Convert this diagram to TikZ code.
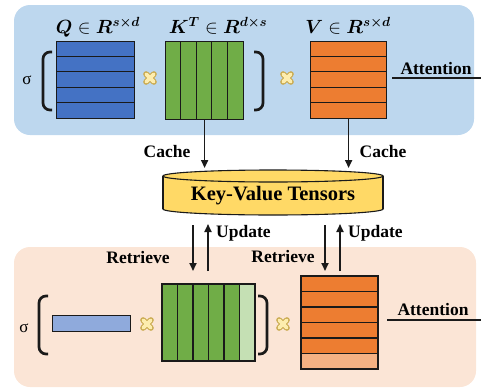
\documentclass[tikz,border=0pt]{standalone}
\usepackage{fontspec}
\setmainfont{Liberation Serif}
\usepackage{bm}
\usetikzlibrary{arrows.meta}

\definecolor{panelblue}{HTML}{BDD7EE}
\definecolor{panelpeach}{HTML}{FBE5D6}
\definecolor{qblue}{HTML}{4472C4}
\definecolor{qlight}{HTML}{8FAADC}
\definecolor{kgreen}{HTML}{70AD47}
\definecolor{klight}{HTML}{C5E0B4}
\definecolor{vorange}{HTML}{ED7D31}
\definecolor{vlight}{HTML}{F4B183}
\definecolor{kvyellow}{HTML}{FFD966}
\definecolor{xfill}{HTML}{FDEDAE}
\definecolor{xedge}{HTML}{C9A94E}
\definecolor{ink}{HTML}{1A1A1A}

\begin{document}
\begin{tikzpicture}[x=1pt,y=-1pt,
  panel/.style={rounded corners=16pt},
  matbox/.style={draw=ink,line width=1.2pt,inner sep=0pt,anchor=north west},
  sepline/.style={draw=ink,line width=1.1pt},
  lbl/.style={font=\bfseries\fontsize{17.5}{20}\selectfont,inner sep=0pt},
  mathlbl/.style={font=\huge,scale=0.92,inner sep=0pt,anchor=base},
  sig/.style={font=\fontsize{17}{20}\selectfont,inner sep=0pt},
  arr/.style={draw=ink,line width=1.7pt,-{Triangle[length=8pt,width=7pt]}},
  brk/.style={draw=ink,line width=2.7pt,rounded corners=7pt},
  uline/.style={draw=ink,line width=1.5pt},
  mulx/.pic={
    \draw[line width=5.8pt,color=xedge,line cap=round]
      (-3.9,-3.9) -- (3.9,3.9) (-3.9,3.9) -- (3.9,-3.9);
    \draw[line width=3.6pt,color=xfill,line cap=round]
      (-3.9,-3.9) -- (3.9,3.9) (-3.9,3.9) -- (3.9,-3.9);
  },
  ]
\useasboundingbox (0,0) rectangle (481,388);

% ---------- background panels ----------
\fill[panelblue,panel] (14,5) rectangle (474,135);
\fill[panelpeach,panel] (14,247) rectangle (476,387);

% ---------- upper row: full attention ----------
\node[mathlbl] (qlab) at (98,33) {$\bm{Q} \in \bm{R}^{\bm{s\times d}}$};
\node[mathlbl] (klab) at (218,33) {$\bm{K}^{\bm{T}} \in \bm{R}^{\bm{d\times s}}$};
\node[mathlbl] (vlab) at (348,33) {$\bm{V} \in \bm{R}^{\bm{s\times d}}$};

\node[matbox,fill=qblue,minimum width=78pt,minimum height=77pt] (Q) at (56,41) {};
\foreach \i in {1,...,4}
  \draw[sepline] (56,41+\i*15.4) -- (134,41+\i*15.4);

\node[matbox,fill=kgreen,minimum width=78pt,minimum height=78pt] (K) at (165,41) {};
\foreach \i in {1,...,4}
  \draw[sepline] (165+\i*15.6,41) -- (165+\i*15.6,119);

\node[matbox,fill=vorange,minimum width=76pt,minimum height=77pt] (V) at (310,41) {};
\foreach \i in {1,...,4}
  \draw[sepline] (310,41+\i*15.4) -- (386,41+\i*15.4);

\node[sig] (sig1) at (27,80) {σ};
\draw[brk] (52,52) -- (43,52) -- (43,110) -- (52,110);
\draw[brk] (254,52) -- (263,52) -- (263,110) -- (254,110);
\pic at (150,78) {mulx};
\pic at (287,78) {mulx};

\node[lbl] (att1) at (436,69) {Attention};
\coordinate (att1a) at (392,78);
\coordinate (att1b) at (481,78);
\draw[uline] (att1a) -- (att1b);

% ---------- key-value cache cylinder ----------
\fill[kvyellow,draw=ink,line width=1.1pt] (273,209) ellipse (110 and 6);
\fill[kvyellow] (163,176) rectangle (383,209);
\draw[ink,line width=1.1pt] (163,176) -- (163,209) (383,176) -- (383,209);
\fill[kvyellow,draw=ink,line width=1.1pt] (273,176) ellipse (110 and 6);
\node[font=\bfseries\fontsize{20.5}{24}\selectfont,inner sep=0pt] (kv) at (273,196) {Key-Value Tensors};
\coordinate (kvT) at (273,168);

% cache arrows
\draw[arr] (K.south) -- (K.south |- kvT);
\draw[arr] (V.south) -- (V.south |- kvT);
\node[lbl] (c1) at (167,152) {Cache};
\node[lbl] (c2) at (383,152) {Cache};

% ---------- lower row: incremental decoding ----------
\node[matbox,fill=qlight,minimum width=78pt,minimum height=16pt] (q2) at (52,315) {};

\node[matbox,fill=kgreen,minimum width=93pt,minimum height=77pt] (K2) at (162,284) {};
\fill[klight] (239.5,284) rectangle (255,361);
\draw[ink,line width=1.2pt] (162,284) rectangle (255,361);
\foreach \i in {1,...,5}
  \draw[sepline] (162+\i*15.5,284) -- (162+\i*15.5,361);

\node[matbox,fill=vorange,minimum width=77pt,minimum height=93pt] (V2) at (301,276) {};
\fill[vlight] (301,353.5) rectangle (378,369);
\draw[ink,line width=1.2pt] (301,276) rectangle (378,369);
\foreach \i in {1,...,5}
  \draw[sepline] (301,276+\i*15.5) -- (378,276+\i*15.5);

\node[sig] (sig2) at (24,328) {σ};
\draw[brk] (48,296) -- (39,296) -- (39,354) -- (48,354);
\draw[brk] (258,296) -- (267,296) -- (267,354) -- (258,354);
\pic at (147,324) {mulx};
\pic at (283,324) {mulx};

\node[lbl] (att2) at (433,310) {Attention};
\coordinate (att2a) at (387,320);
\coordinate (att2b) at (481,320);
\draw[uline] (att2a) -- (att2b);

% retrieve / update arrows between the cache and the new K, V
\coordinate (kr1) at (193,225);
\coordinate (kr2) at (193,271);
\coordinate (ku1) at (208,271);
\coordinate (ku2) at (208,224);
\coordinate (vr1) at (325,225);
\coordinate (vr2) at (325,271);
\coordinate (vu1) at (340,271);
\coordinate (vu2) at (340,224);
\draw[arr] (kr1) -- (kr2);
\draw[arr] (ku1) -- (ku2);
\draw[arr] (vr1) -- (vr2);
\draw[arr] (vu1) -- (vu2);

\node[lbl,anchor=west] (u1) at (216,233) {Update};
\node[lbl,anchor=west] (u2) at (348,233) {Update};
\node[lbl] (r1) at (138,258) {Retrieve};
\node[lbl] (r2) at (283,257) {Retrieve};
\end{tikzpicture}
\end{document}
